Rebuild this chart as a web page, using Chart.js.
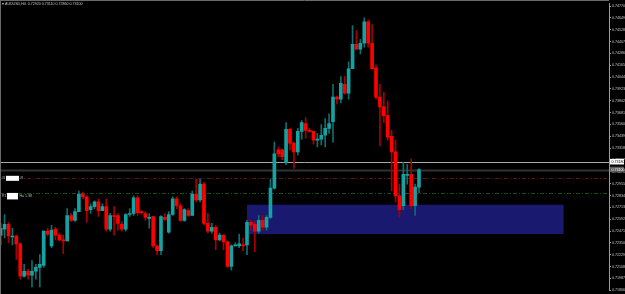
<!DOCTYPE html>
<html><head><meta charset="utf-8">
<script src="https://cdn.jsdelivr.net/npm/chart.js@4.4.1/dist/chart.umd.min.js"></script>
<style>html,body{margin:0;padding:0;background:#000;overflow:hidden}canvas{display:block}</style>
</head><body>
<canvas id="c" width="625" height="294"></canvas>
<script>
// ---- data (AUDUSD, H4 candles) ----
const chartTitle = "\u25BE AUDUSD,H4  0.72920 0.73110 0.72860 0.73100";
const openP = [0.7243,0.7249,0.7254,0.7241,0.7242,0.7234,0.7201,0.7206,0.7202,0.7206,
0.7210,0.7212,0.7247,0.7232,0.7249,0.7243,0.7238,0.7237,0.7263,0.7258,
0.7267,0.7285,0.7282,0.7269,0.7272,0.7277,0.7268,0.7272,0.7249,0.7263,
0.7263,0.7254,0.7249,0.7264,0.7265,0.7281,0.7267,0.7265,0.7260,0.7262,
0.7232,0.7227,0.7261,0.7246,0.7264,0.7280,0.7273,0.7258,0.7268,0.7263,
0.7285,0.7279,0.7295,0.7255,0.7247,0.7251,0.7238,0.7243,0.7236,0.7211,
0.7232,0.7232,0.7233,0.7233,0.7256,0.7254,0.7247,0.7258,0.7251,0.7261,
0.7291,0.7330,0.7330,0.7317,0.7351,0.7337,0.7328,0.7349,0.7357,0.7350,
0.7349,0.7340,0.7341,0.7345,0.7352,0.7359,0.7384,0.7382,0.7397,0.7388,
0.7413,0.7438,0.7433,0.7439,0.7461,0.7439,0.7414,0.7384,0.7374,0.7365,
0.7344,0.7328,0.7283,0.7273,0.7304,0.7305,0.7273,0.7292];
const highP = [0.7255,0.7264,0.7256,0.7250,0.7243,0.7235,0.7213,0.7208,0.7217,0.7213,
0.7223,0.7247,0.7250,0.7253,0.7251,0.7245,0.7243,0.7270,0.7265,0.7270,
0.7288,0.7287,0.7283,0.7275,0.7278,0.7280,0.7275,0.7280,0.7265,0.7272,
0.7265,0.7257,0.7265,0.7270,0.7283,0.7283,0.7268,0.7267,0.7265,0.7262,
0.7232,0.7263,0.7265,0.7267,0.7282,0.7282,0.7275,0.7270,0.7270,0.7288,
0.7300,0.7300,0.7297,0.7265,0.7255,0.7253,0.7245,0.7243,0.7237,0.7233,
0.7235,0.7244,0.7240,0.7258,0.7258,0.7257,0.7263,0.7263,0.7263,0.7300,
0.7338,0.7333,0.7331,0.7358,0.7352,0.7338,0.7352,0.7360,0.7363,0.7352,
0.7349,0.7347,0.7356,0.7362,0.7367,0.7397,0.7385,0.7405,0.7405,0.7420,
0.7457,0.7452,0.7443,0.7465,0.7463,0.7458,0.7417,0.7397,0.7389,0.7380,
0.7350,0.7340,0.7295,0.7317,0.7315,0.7321,0.7295,0.7311];
const lowP = [0.7233,0.7240,0.7235,0.7233,0.7218,0.7198,0.7200,0.7198,0.7190,0.7198,
0.7190,0.7210,0.7242,0.7230,0.7238,0.7237,0.7224,0.7237,0.7257,0.7257,
0.7267,0.7280,0.7256,0.7265,0.7270,0.7262,0.7268,0.7247,0.7247,0.7243,
0.7248,0.7247,0.7247,0.7262,0.7263,0.7263,0.7264,0.7258,0.7250,0.7230,
0.7223,0.7223,0.7258,0.7245,0.7263,0.7270,0.7257,0.7257,0.7262,0.7263,
0.7277,0.7277,0.7253,0.7245,0.7245,0.7228,0.7237,0.7228,0.7210,0.7207,
0.7232,0.7230,0.7227,0.7223,0.7248,0.7226,0.7245,0.7248,0.7248,0.7260,
0.7290,0.7323,0.7320,0.7315,0.7330,0.7311,0.7325,0.7341,0.7342,0.7348,
0.7336,0.7333,0.7335,0.7333,0.7347,0.7338,0.7377,0.7378,0.7387,0.7382,
0.7413,0.7433,0.7428,0.7435,0.7435,0.7413,0.7382,0.7334,0.7358,0.7340,
0.7288,0.7277,0.7261,0.7269,0.7295,0.7270,0.7263,0.7286];
const closeP = [0.7250,0.7254,0.7242,0.7242,0.7234,0.7201,0.7206,0.7202,0.7206,0.7210,
0.7213,0.7247,0.7244,0.7248,0.7243,0.7238,0.7237,0.7263,0.7258,0.7267,
0.7285,0.7282,0.7268,0.7272,0.7277,0.7268,0.7272,0.7249,0.7263,0.7262,
0.7255,0.7249,0.7264,0.7265,0.7281,0.7266,0.7266,0.7261,0.7261,0.7232,
0.7227,0.7262,0.7259,0.7264,0.7280,0.7273,0.7258,0.7269,0.7263,0.7285,
0.7279,0.7295,0.7255,0.7247,0.7251,0.7238,0.7243,0.7236,0.7211,0.7232,
0.7233,0.7234,0.7232,0.7256,0.7253,0.7247,0.7258,0.7251,0.7261,0.7291,
0.7326,0.7326,0.7323,0.7351,0.7337,0.7328,0.7349,0.7358,0.7350,0.7349,
0.7340,0.7341,0.7345,0.7352,0.7357,0.7384,0.7382,0.7398,0.7388,0.7413,
0.7438,0.7433,0.7439,0.7461,0.7439,0.7413,0.7384,0.7374,0.7365,0.7343,
0.7328,0.7283,0.7269,0.7305,0.7305,0.7273,0.7292,0.7310];
const yTicks = [0.74770,0.74649,0.74528,0.74407,0.74286,0.74165,0.74044,0.73923,0.73802,0.73681,
0.73560,0.73439,0.73318,0.73197,0.73076,0.72955,0.72834,0.72713,0.72592,0.72471,
0.72350,0.72229,0.72108,0.71987,0.71866];
// demand zone (bar index range, price range)
const zoneBars = [63, 144];
const zonePrices = [0.7274, 0.7244];
// horizontal levels
const levelPrice = 0.7318;   // light grey line
const bidPrice = 0.7310;     // dark grey line
const rLevel = 0.7301;       // red dash-dot
const sLevel = 0.7286;       // green dash-dot
const sLabelPrice = 0.7283;

const UP = '#14a2a2', DN = '#ff0000', UPW = '#0f6e6e', DNW = '#a80000';
const idx = openP.map((_, i) => i);
const isUp = i => closeP[i] >= openP[i];

const overlay = {
  id: 'overlay',
  beforeDraw(chart) {
    const c = chart.ctx;
    c.save(); c.fillStyle = '#000'; c.fillRect(0, 0, chart.width, chart.height); c.restore();
  },
  beforeDatasetsDraw(chart) {
    const c = chart.ctx, a = chart.chartArea, x = chart.scales.x, y = chart.scales.y;
    c.save();
    const x0 = x.getPixelForValue(zoneBars[0]), x1 = x.getPixelForValue(zoneBars[1]);
    const y0 = y.getPixelForValue(zonePrices[0]), y1 = y.getPixelForValue(zonePrices[1]);
    c.fillStyle = '#191970';
    c.fillRect(x0, y0, x1 - x0, y1 - y0);
    const hl = (p, col, w, dash) => {
      const py = Math.round(y.getPixelForValue(p)) + 0.5;
      c.beginPath(); c.setLineDash(dash || []); c.strokeStyle = col; c.lineWidth = w;
      c.moveTo(a.left, py); c.lineTo(a.right, py); c.stroke();
    };
    hl(levelPrice, '#a8a8a8', 1);
    hl(bidPrice, '#333333', 2);
    hl(rLevel, '#5e1414', 1, [4, 2, 1, 2]);
    hl(sLevel, '#174f17', 1, [4, 2, 1, 2]);
    c.setLineDash([]);
    c.restore();
  },
  afterDraw(chart) {
    const c = chart.ctx, a = chart.chartArea, y = chart.scales.y;
    c.save();
    c.strokeStyle = '#6a6a6a'; c.lineWidth = 1;
    c.beginPath(); c.moveTo(0, 0.5); c.lineTo(a.right, 0.5); c.stroke();
    c.beginPath(); c.moveTo(0.5, 0); c.lineTo(0.5, chart.height); c.stroke();
    c.fillStyle = '#c8c8c8'; c.font = '3.6px "Liberation Sans"'; c.textBaseline = 'middle';
    c.fillText(chartTitle, 2, 3.5);
    const ry = y.getPixelForValue(rLevel);
    c.fillStyle = '#bbbbbb'; c.fillText('R', 2.5, ry);
    c.fillStyle = '#ffffff'; c.fillRect(6, ry - 2.5, 13, 5);
    c.fillStyle = '#bbbbbb'; c.fillText('R', 20.5, ry);
    const sy = y.getPixelForValue(sLabelPrice);
    c.fillText('R1', 2, sy);
    c.fillStyle = '#ffffff'; c.fillRect(7, sy - 3, 11, 6.5);
    c.fillStyle = '#bbbbbb'; c.fillText('Ha 1.38', 19.5, sy);
    const box = (p, bg, fg, txt) => {
      const py = y.getPixelForValue(p);
      c.fillStyle = bg; c.fillRect(a.right + 1, py - 2.8, 14, 5.6);
      c.fillStyle = fg; c.fillText(txt, a.right + 2.5, py + 0.2);
    };
    box(levelPrice, '#ffffff', '#000000', levelPrice.toFixed(5));
    box(bidPrice, '#5a5a5a', '#ffffff', bidPrice.toFixed(5));
    c.restore();
  }
};

new Chart(document.getElementById('c'), {
  type: 'bar',
  data: {
    datasets: [
      {
        label: 'body',
        data: idx.map(i => ({ x: i, y: [openP[i], closeP[i]] })),
        backgroundColor: ctx => isUp(ctx.dataIndex) ? UP : DN,
        barThickness: 3, minBarLength: 1, grouped: false, borderWidth: 0
      },
      {
        label: 'wick',
        data: idx.map(i => ({ x: i, y: [lowP[i], highP[i]] })),
        backgroundColor: ctx => isUp(ctx.dataIndex) ? UPW : DNW,
        barThickness: 1, grouped: false, borderWidth: 0
      }
    ]
  },
  options: {
    responsive: false, animation: false, devicePixelRatio: 1,
    layout: { padding: 0 },
    plugins: { legend: { display: false }, tooltip: { enabled: false } },
    scales: {
      x: { type: 'linear', min: -0.18, max: 155.6, display: false, offset: false },
      y: {
        type: 'linear', position: 'right', min: 0.7186, max: 0.7480,
        afterBuildTicks: s => { s.ticks = yTicks.map(v => ({ value: v })); },
        afterFit: s => { s.width = 16; },
        ticks: { color: '#c8c8c8', autoSkip: false, padding: 1,
          font: { size: 3.6, family: 'Liberation Sans' },
          callback: v => Number(v).toFixed(5) },
        grid: { drawOnChartArea: false, drawTicks: true, tickLength: 2, color: '#9a9a9a' },
        border: { display: true, color: '#9a9a9a' }
      }
    }
  },
  plugins: [overlay]
});
</script>
</body></html>
